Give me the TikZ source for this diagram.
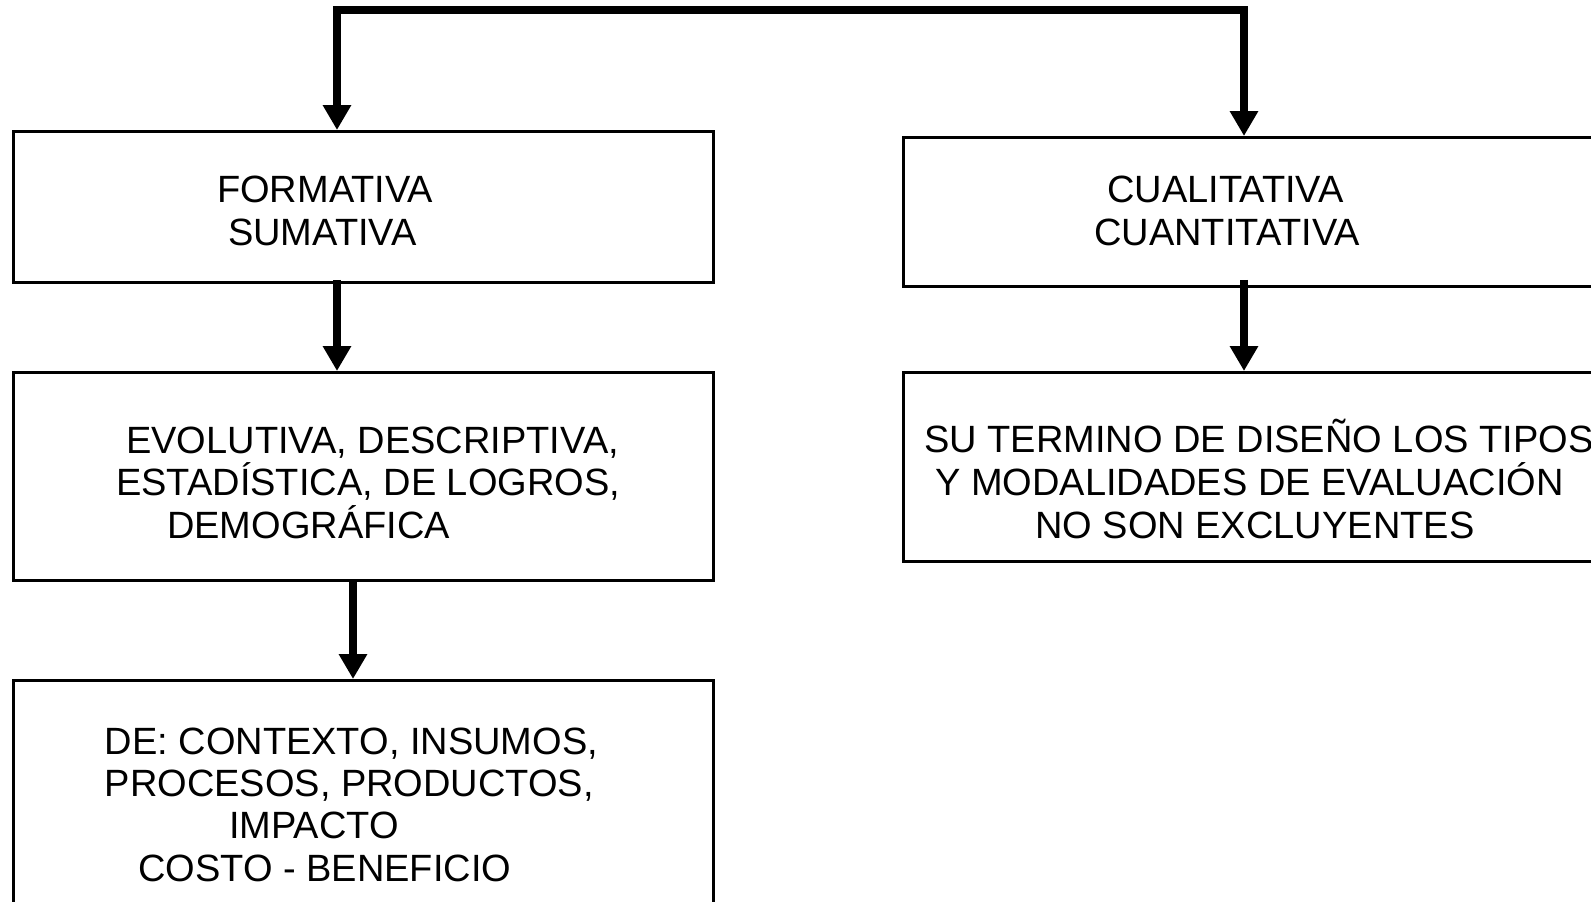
\documentclass[tikz,border=0pt]{standalone}
\usepackage{fontspec}
\setmainfont{Liberation Sans}
\usetikzlibrary{arrows.meta}
\begin{document}
\begin{tikzpicture}[x=1pt,y=-1pt,
  box/.style={draw=black,line width=2.8pt,rectangle,inner sep=0pt,anchor=north west},
  txt/.style={anchor=base west,inner sep=0pt,font=\fontsize{38}{44}\selectfont},
  thick line/.style={line width=7.5pt},
  arr/.style={line width=8.5pt,-{Triangle[width=27pt,length=25pt]}}]
\useasboundingbox (0,0) rectangle (1591,902);
\fill[white] (0,0) rectangle (1591,902);
\clip (0,0) rectangle (1591,902);
% boxes
\node[box,minimum width=700pt,minimum height=151pt] (L1) at (12,130) {};
\node[box,minimum width=700pt,minimum height=208pt] (L2) at (12,371) {};
\node[box,minimum width=700pt,minimum height=300pt] (L3) at (12,679) {};
\node[box,minimum width=760pt,minimum height=149pt] (R1) at (902,136) {};
\node[box,minimum width=760pt,minimum height=189pt] (R2) at (902,371) {};
% texts
\node[txt] (t1) at (217,202.5) {FORMATIVA};
\node[txt] (t2) at (228,245) {SUMATIVA};
\node[txt] (t3) at (126,453) {EVOLUTIVA, DESCRIPTIVA,};
\node[txt] (t4) at (116,495.5) {ESTADÍSTICA, DE LOGROS,};
\node[txt] (t5) at (167,538.5) {DEMOGRÁFICA};
\node[txt] (t6) at (104.5,754.5) {DE: CONTEXTO, INSUMOS,};
\node[txt] (t7) at (104.5,796) {PROCESOS, PRODUCTOS,};
\node[txt] (t8) at (229,838.5) {IMPACTO};
\node[txt] (t9) at (138,881) {COSTO - BENEFICIO};
\node[txt] (t10) at (1107,202.5) {CUALITATIVA};
\node[txt] (t11) at (1094,245) {CUANTITATIVA};
\node[txt] (t12) at (924,452) {SU TERMINO DE DISEÑO LOS TIPOS};
\node[txt] (t13) at (935,495.5) {Y MODALIDADES DE EVALUACIÓN};
\node[txt] (t14) at (1035,538) {NO SON EXCLUYENTES};
% connectors
\coordinate (topL) at (337,10);
\coordinate (topR) at (1244,10);
\draw[thick line] ([xshift=-4.25pt]topL) -- ([xshift=4.25pt]topR);
\draw[arr] ([yshift=-3.75pt]topL) -- (topL |- L1.north);
\draw[arr] ([yshift=-3.75pt]topR) -- (topR |- R1.north);
\draw[arr] ([yshift=4pt]L1.south -| topL) -- (topL |- L2.north);
\draw[arr] ([yshift=8pt]R1.south -| topR) -- (topR |- R2.north);
\coordinate (midL) at (353,0);
\draw[arr] (L2.south -| midL) -- (midL |- L3.north);
\end{tikzpicture}
\end{document}
